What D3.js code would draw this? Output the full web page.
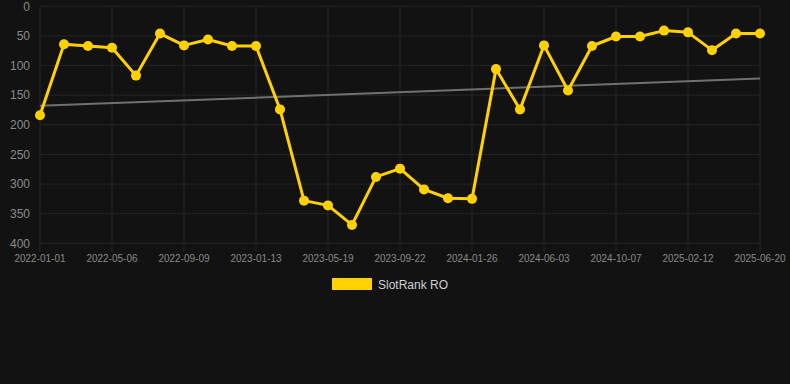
<!DOCTYPE html>
<html>
<head>
<meta charset="utf-8">
<script src="https://cdn.jsdelivr.net/npm/d3@7"></script>
<style>
  html, body { margin: 0; padding: 0; background: #121212; }
  svg { display: block; font-family: Arial, "Liberation Sans", sans-serif; }
</style>
</head>
<body>
<script>
// dates on the category axis (every 3rd one is labelled)
var dates = ["2022-01-01", "2022-02-12", "2022-03-26", "2022-05-06", "2022-06-17", "2022-07-29",
  "2022-09-09", "2022-10-21", "2022-12-02", "2023-01-13", "2023-02-24", "2023-04-07",
  "2023-05-19", "2023-06-30", "2023-08-11", "2023-09-22", "2023-11-03", "2023-12-15",
  "2024-01-26", "2024-03-15", "2024-04-24", "2024-06-03", "2024-07-15", "2024-08-26",
  "2024-10-07", "2024-11-18", "2024-12-31", "2025-02-12", "2025-03-26", "2025-05-08",
  "2025-06-20"];
var ranks = [184, 64, 67, 70, 117, 46, 66, 56, 67, 67,
  174, 328, 336, 369, 288, 274, 309, 324, 325, 106,
  174, 66, 142, 67, 51, 51, 41, 44, 74, 46, 46];
var trend = [168, 122]; // start / end of the trend line
var yTicks = [0, 50, 100, 150, 200, 250, 300, 350, 400];
var seriesName = "SlotRank RO";

var width = 790, height = 384;
var plotLeft = 40, plotRight = 760, plotTop = 6.3, plotBottom = 243.3;

var svg = d3.select("body").append("svg")
    .attr("width", width)
    .attr("height", height);

svg.append("rect")
    .attr("width", width)
    .attr("height", height)
    .attr("fill", "#121212");

var x = d3.scalePoint().domain(dates).range([plotLeft, plotRight]);
var y = d3.scaleLinear().domain([0, 400]).range([plotTop, plotBottom]);

var labelled = dates.filter(function(d, i){ return i % 3 === 0; });

// grid
svg.selectAll("line.hgrid")
    .data(yTicks).enter()
    .append("line")
    .attr("class", "hgrid")
    .attr("x1", plotLeft)
    .attr("x2", plotRight)
    .attr("y1", function(d){ return y(d); })
    .attr("y2", function(d){ return y(d); })
    .attr("stroke", "#252525")
    .attr("stroke-width", 1);

svg.selectAll("line.vgrid")
    .data(labelled).enter()
    .append("line")
    .attr("class", "vgrid")
    .attr("x1", function(d){ return x(d); })
    .attr("x2", function(d){ return x(d); })
    .attr("y1", plotTop)
    .attr("y2", plotBottom + 8)
    .attr("stroke", "#252525")
    .attr("stroke-width", 1);

// y labels
svg.selectAll("text.ylab")
    .data(yTicks).enter()
    .append("text")
    .attr("class", "ylab")
    .attr("x", 30)
    .attr("y", function(d){ return y(d); })
    .attr("dy", "0.35em")
    .attr("text-anchor", "end")
    .attr("font-size", "12px")
    .attr("fill", "#8a8a8a")
    .text(function(d){ return d; });

// x labels
svg.selectAll("text.xlab")
    .data(labelled).enter()
    .append("text")
    .attr("class", "xlab")
    .attr("x", function(d){ return x(d); })
    .attr("y", 262)
    .attr("text-anchor", "middle")
    .attr("font-size", "10px")
    .attr("fill", "#888")
    .text(function(d){ return d; });

// trend line
svg.append("line")
    .attr("x1", x(dates[0]))
    .attr("x2", x(dates[dates.length - 1]))
    .attr("y1", y(trend[0]))
    .attr("y2", y(trend[1]))
    .attr("stroke", "#707070")
    .attr("stroke-width", 2);

// series
var line = d3.line()
    .x(function(d, i){ return x(dates[i]); })
    .y(function(d){ return y(d); });

svg.append("path")
    .datum(ranks)
    .attr("d", line)
    .attr("fill", "none")
    .attr("stroke", "#ffd100")
    .attr("stroke-width", 3)
    .attr("stroke-linejoin", "round");

svg.selectAll("circle.pt")
    .data(ranks).enter()
    .append("circle")
    .attr("class", "pt")
    .attr("cx", function(d, i){ return x(dates[i]); })
    .attr("cy", function(d){ return y(d); })
    .attr("r", 5)
    .attr("fill", "#ffd100");

// legend
svg.append("rect")
    .attr("x", 332)
    .attr("y", 278)
    .attr("width", 40)
    .attr("height", 12)
    .attr("fill", "#ffd100");

svg.append("text")
    .attr("x", 378)
    .attr("y", 288.5)
    .attr("font-size", "12px")
    .attr("fill", "#d0d0d0")
    .text(seriesName);
</script>
</body>
</html>
